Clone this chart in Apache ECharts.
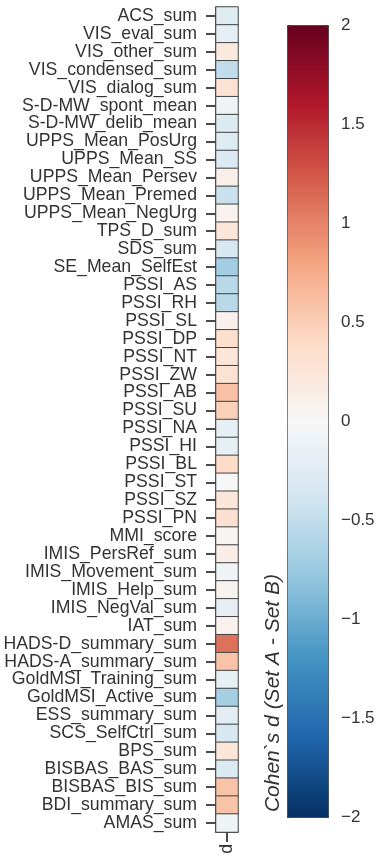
<!DOCTYPE html>
<html>
<head>
<meta charset="utf-8">
<script src="https://cdn.jsdelivr.net/npm/echarts@6/dist/echarts.min.js"></script>
<style>
html,body{margin:0;padding:0;background:#fff;}
#chart{width:380px;height:863px;}
</style>
</head>
<body>
<div id="chart"></div>
<script>
var categories = [
  'ACS_sum','VIS_eval_sum','VIS_other_sum','VIS_condensed_sum','VIS_dialog_sum',
  'S-D-MW_spont_mean','S-D-MW_delib_mean','UPPS_Mean_PosUrg','UPPS_Mean_SS','UPPS_Mean_Persev',
  'UPPS_Mean_Premed','UPPS_Mean_NegUrg','TPS_D_sum','SDS_sum','SE_Mean_SelfEst',
  'PSSI_AS','PSSI_RH','PSSI_SL','PSSI_DP','PSSI_NT','PSSI_ZW','PSSI_AB','PSSI_SU',
  'PSSI_NA','PSSI_HI','PSSI_BL','PSSI_ST','PSSI_SZ','PSSI_PN','MMI_score',
  'IMIS_PersRef_sum','IMIS_Movement_sum','IMIS_Help_sum','IMIS_NegVal_sum','IAT_sum',
  'HADS-D_summary_sum','HADS-A_summary_sum','GoldMSI_Training_sum','GoldMSI_Active_sum',
  'ESS_summary_sum','SCS_SelfCtrl_sum','BPS_sum','BISBAS_BAS_sum','BISBAS_BIS_sum',
  'BDI_summary_sum','AMAS_sum'
];
var dValues = [
  -0.25, -0.2, 0.2, -0.5, 0.3,
  -0.08, -0.28, -0.27, -0.3, 0.12,
  -0.45, 0.06, 0.25, -0.33, -0.7,
  -0.55, -0.55, 0.1, 0.35, 0.25, 0.3, 0.6, 0.48,
  -0.18, -0.18, 0.38, 0.0, 0.25, 0.33, 0.05,
  0.15, -0.1, 0.07, -0.2, 0.08,
  1.1, 0.58, -0.18, -0.68,
  -0.22, -0.33, 0.25, -0.3, 0.58,
  0.58, -0.1
];
var xCategories = ['d'];
var colorbarTicks = { min: -2, max: 2, interval: 0.5 };
var colorbarInnerTicks = [-1.5, -1, -0.5, 0, 0.5, 1, 1.5];
var rdbuR = ['#053061','#2166ac','#4393c3','#92c5de','#d1e5f0','#f7f7f7','#fddbc7','#f4a582','#d6604d','#b2182b','#67001f'];
var colorbarTitle = 'Cohen`s d (Set A - Set B)';

var heatData = dValues.map(function (v, i) { return [0, i, v]; });
var FONT = '"Liberation Sans", Arial, Helvetica, sans-serif';

var chart = echarts.init(document.getElementById('chart'), null, { renderer: 'canvas' });
chart.setOption({
  animation: false,
  backgroundColor: '#ffffff',
  grid: [
    { left: 216, top: 7, width: 22, height: 825 },
    { left: 287, top: 25, width: 41, height: 792 }
  ],
  xAxis: [
    {
      gridIndex: 0, type: 'category', data: xCategories,
      axisLine: { show: true, lineStyle: { color: '#111', width: 1.5 } },
      axisTick: { show: true, alignWithLabel: true, length: 10, lineStyle: { color: '#111', width: 1.5 } },
      axisLabel: { rotate: 90, margin: 12, fontSize: 17.7, color: '#333', fontFamily: FONT },
      splitLine: { show: false }
    },
    {
      gridIndex: 1, type: 'category', data: [''], show: false
    }
  ],
  yAxis: [
    {
      gridIndex: 0, type: 'category', data: categories, inverse: true,
      axisLine: { show: true, lineStyle: { color: '#111', width: 1.5 } },
      axisTick: { show: true, alignWithLabel: true, length: 10, lineStyle: { color: '#111', width: 1.5 } },
      axisLabel: { interval: 0, margin: 19, fontSize: 17.7, color: '#333', fontFamily: FONT },
      splitLine: { show: false }
    },
    {
      gridIndex: 1, type: 'value', position: 'right',
      min: colorbarTicks.min, max: colorbarTicks.max, interval: colorbarTicks.interval,
      axisLine: { show: false },
      axisTick: { show: true, inside: true, length: 7, customValues: colorbarInnerTicks, lineStyle: { color: '#111', width: 1.5 } },
      splitLine: { show: false },
      axisLabel: {
        margin: 13, fontSize: 17, color: '#333', fontFamily: FONT,
        formatter: function (v) { return v < 0 ? '\u2212' + Math.abs(v) : String(v); }
      }
    }
  ],
  visualMap: {
    type: 'continuous', seriesIndex: 0,
    min: colorbarTicks.min, max: colorbarTicks.max,
    inRange: { color: rdbuR },
    calculable: false, realtime: false, hoverLink: false,
    orient: 'vertical', left: 287, top: 25,
    itemWidth: 41, itemHeight: 792,
    text: null, showLabel: false, padding: 0,
    borderColor: '#333', borderWidth: 1,
    z: 1
  },
  graphic: [{
    type: 'text', left: 263, top: 574, rotation: Math.PI / 2,
    style: { text: colorbarTitle, fontSize: 21, fontStyle: 'italic', fontFamily: FONT, fill: '#333' }
  }],
  series: [{
    type: 'heatmap', xAxisIndex: 0, yAxisIndex: 0,
    data: heatData,
    itemStyle: { borderColor: '#444', borderWidth: 1 },
    emphasis: { disabled: true }
  }]
});
</script>
</body>
</html>
